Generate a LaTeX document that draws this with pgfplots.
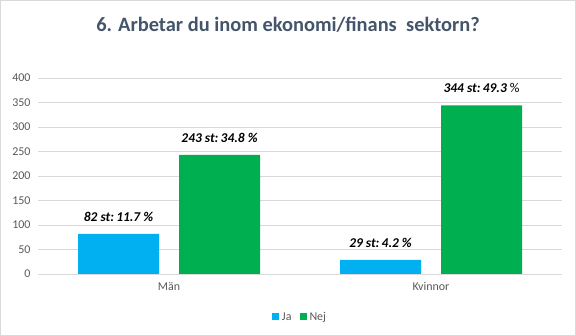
\documentclass[border=0pt]{standalone}
\usepackage{fontspec}
\setmainfont{Carlito}
\usepackage{pgfplots}
\pgfplotsset{compat=1.18}
\definecolor{jaC}{HTML}{00B0F0}
\definecolor{nejC}{HTML}{00B050}
\definecolor{gridC}{HTML}{D9D9D9}
\definecolor{txtC}{HTML}{595959}
\definecolor{titleC}{HTML}{44546A}
\begin{document}
\begin{tikzpicture}
\path[use as bounding box] (0bp,0bp) rectangle (576bp,336bp);
\draw[gridC, line width=0.8bp] (0.5bp,0.5bp) rectangle (575.5bp,335.5bp);
\node[font=\fontsize{20.5}{24}\selectfont\bfseries, text=titleC] at (288bp,311bp) {6. Arbetar du inom ekonomi/finans\ \ sektorn?};
\begin{axis}[
  at={(38bp,62bp)}, anchor=south west,
  scale only axis, width=524bp, height=196bp,
  ybar=20bp, bar width=81bp,
  xmin=-0.5, xmax=1.5, ymin=0, ymax=400,
  ytick={0,50,...,400},
  xtick={0,1}, xticklabels={Män,Kvinnor},
  ymajorgrids, grid style={gridC, line width=0.8bp},
  axis x line*=bottom, axis y line*=left,
  x axis line style={gridC, line width=0.8bp, -},
  y axis line style={draw=none},
  major tick length=0pt,
  ticklabel style={font=\fontsize{12}{14}\selectfont, text=txtC},
  /pgf/number format/assume math mode=true,
  yticklabel style={anchor=east, xshift=-4bp},
  xticklabel style={yshift=-5bp},
  nodes near coords,
  point meta=explicit symbolic,
  every node near coord/.append style={font=\fontsize{13.5}{15}\selectfont\bfseries\itshape, text=black, anchor=south, yshift=9bp},
  legend style={at={(0.5,-0.175)}, anchor=north, draw=none, fill=none,
    font=\fontsize{12}{14}\selectfont, text=txtC, legend columns=2,
    /tikz/every even column/.append style={column sep=6bp},
    /tikz/every odd column/.append style={column sep=1bp}},
  legend image code/.code={\fill[#1] (0bp,-3bp) rectangle (7bp,4bp);},
]
\addplot[fill=jaC, draw=none] coordinates {(0,82) [82 st:\,11.7 \%] (1,29) [29 st:\,4.2 \%]};
\addplot[fill=nejC, draw=none] coordinates {(0,243) [243 st:\,34.8 \%] (1,344) [344 st:\,49.3 {\mdseries\upshape\%}]};
\legend{Ja,Nej}
\end{axis}
\end{tikzpicture}
\end{document}
